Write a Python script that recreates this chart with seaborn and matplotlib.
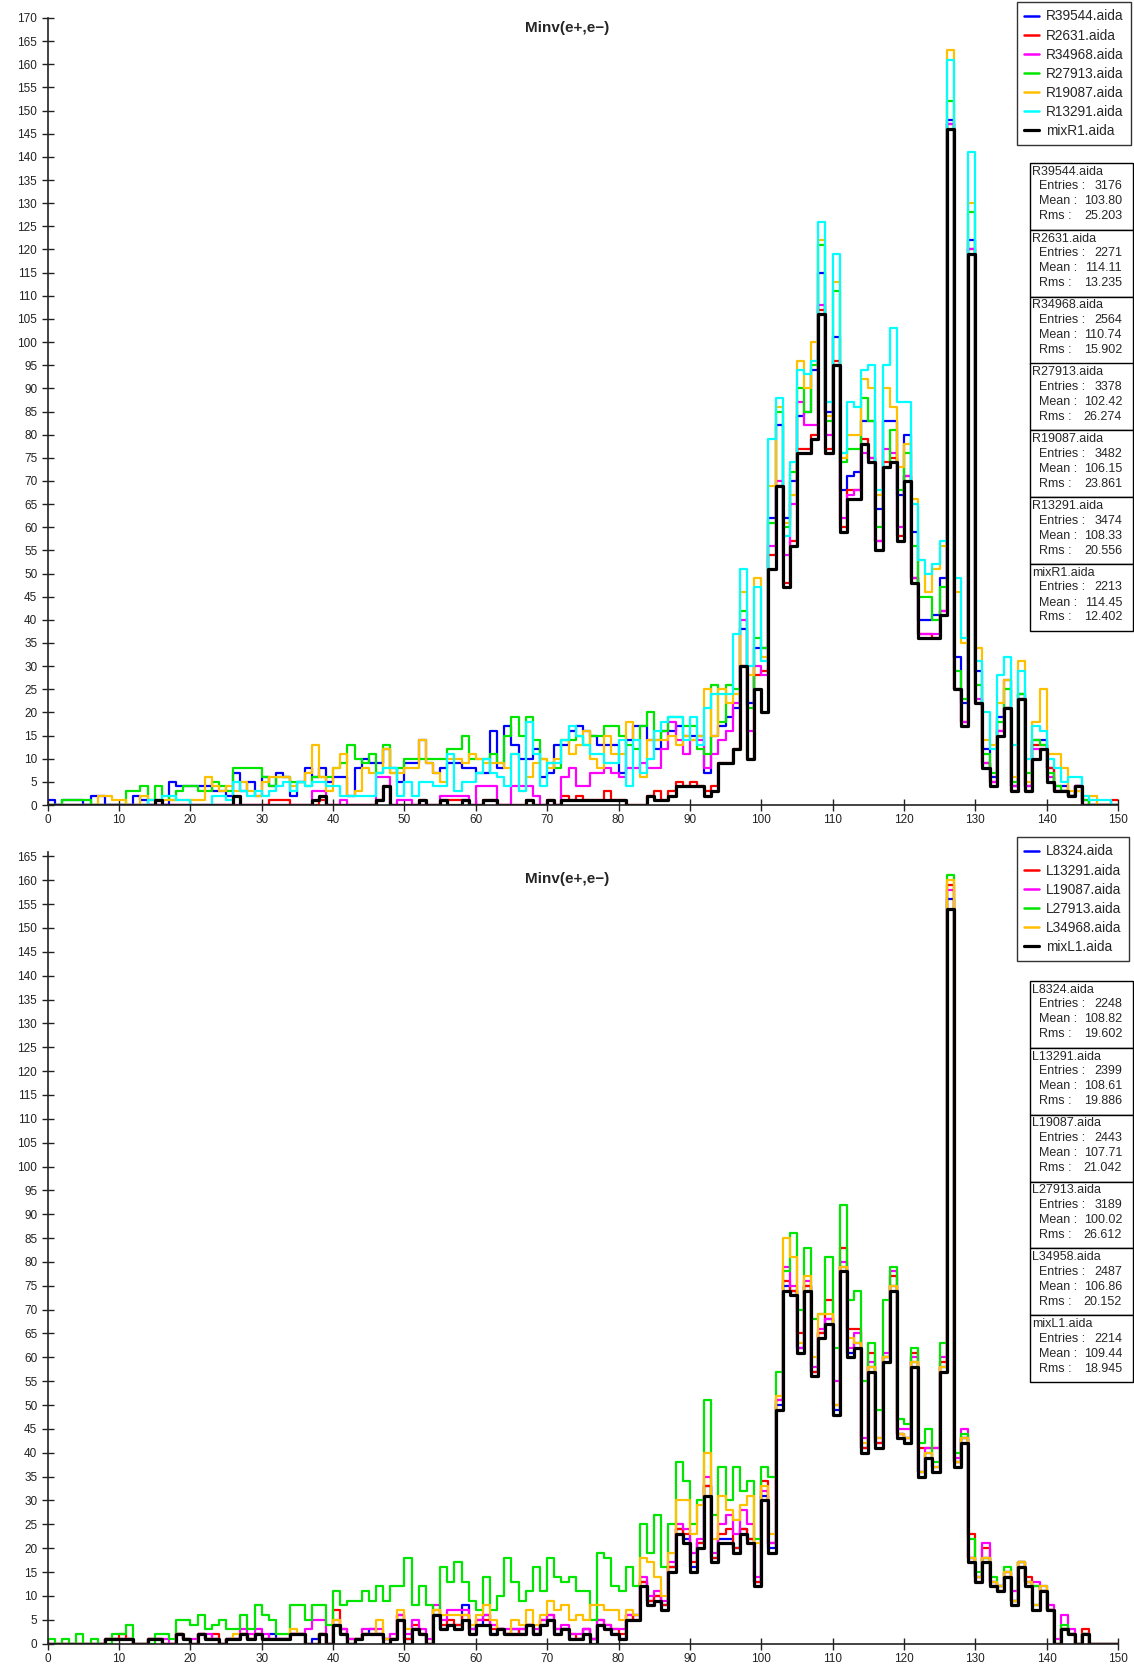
import numpy as np
import pandas as pd
import matplotlib
matplotlib.use("Agg")
import matplotlib.pyplot as plt
from matplotlib.lines import Line2D
from matplotlib.patches import Rectangle
import seaborn as sns

# bins of width 1 from 0 to 150
edges = np.arange(0, 151)
centers = edges[:-1] + 0.5

# ---- upper panel (R files) ----
r39544 = [1,0,1,1,1,0,2,2,0,0, 0,0,2,1,0,0,0,5,4,4, 4,4,4,3,3,2,7,3,5,2,
          6,4,7,6,2,5,8,6,8,5, 6,6,2,8,10,9,9,12,8,5, 9,9,14,9,7,8,9,9,8,8,
          7,7,16,8,17,13,10,10,12,6, 7,13,13,16,17,16,15,13,13,13, 7,14,17,17,14,12,16,16,17,15,
          15,15,7,15,17,19,21,38,22,34, 34,62,82,62,70,84,85,94,115,85, 101,68,71,72,83,83,64,83,83,67,
          80,59,40,40,41,49,148,32,22,122, 29,12,6,19,27,4,24,4,14,14, 8,4,4,2,4,1,0,0,0,0]
r2631 = [0,0,0,0,0,0,0,0,0,0, 0,0,0,0,0,0,0,0,0,0, 0,0,0,0,0,0,0,0,0,0,
         0,1,1,1,0,0,0,0,1,0, 0,0,0,0,0,0,1,4,0,0, 0,0,1,0,0,1,1,1,1,0,
         0,1,1,0,0,0,0,1,0,0, 1,0,2,1,2,1,1,1,3,1, 1,0,0,0,2,3,1,3,5,4,
         5,4,3,4,9,9,12,30,10,28, 29,54,69,48,57,77,77,80,107,77, 96,60,68,68,79,75,57,74,75,58,
         71,49,37,37,36,42,147,25,18,120, 22,9,5,16,21,3,23,3,13,13, 8,3,3,2,4,0,0,0,0,1]
r34968 = [0,0,0,0,0,0,0,0,0,0, 0,0,0,0,0,0,0,0,0,0, 0,0,0,0,0,0,0,0,0,0,
          0,0,0,0,0,0,0,3,3,0, 0,1,0,0,0,0,6,6,0,1, 1,0,0,0,0,2,2,2,2,0,
          4,4,4,0,0,4,4,4,2,0, 0,0,6,8,4,4,7,7,8,7, 6,8,8,9,8,8,12,18,14,11,
          14,14,8,11,14,16,22,40,16,30, 28,56,70,54,65,87,82,82,108,80, 95,62,67,68,76,75,57,77,76,60,
          71,49,37,37,37,42,147,25,18,120, 23,9,5,16,21,4,23,4,12,12, 6,3,3,2,4,0,0,0,0,0]
r27913 = [0,0,1,1,1,1,0,0,0,0, 0,3,3,4,1,4,2,1,3,4, 4,3,3,5,4,3,8,8,8,8,
          6,4,6,6,5,5,4,6,6,6, 8,9,13,10,9,11,7,13,7,8, 10,10,10,10,10,10,12,12,15,10,
          10,10,11,9,15,19,15,19,14,10, 9,8,14,14,15,13,15,15,17,17, 15,13,12,17,20,14,16,19,19,17,
          17,12,11,26,18,26,25,42,21,36, 34,61,85,60,72,90,85,95,121,83, 111,74,77,77,88,83,60,73,81,68,
          76,56,45,45,40,47,152,29,23,128, 26,11,7,18,25,5,24,7,14,13, 7,4,3,2,3,1,0,0,0,0]
r19087 = [0,0,0,0,0,0,0,2,2,1, 1,0,0,2,1,1,1,1,1,1, 1,1,6,4,3,4,3,5,3,2,
          5,6,6,6,4,5,7,13,6,3, 8,11,2,3,8,7,7,12,7,7, 8,8,14,9,7,5,10,10,9,11,
          10,9,9,9,8,11,3,6,9,10, 8,10,14,11,13,16,10,8,15,11, 11,18,14,6,14,14,14,15,13,15,
          14,15,25,15,25,22,24,46,28,49, 32,69,86,61,67,96,90,100,122,84, 113,75,80,80,92,90,67,90,86,73,
          78,66,53,46,51,56,163,46,35,130, 34,14,13,22,27,6,31,5,18,25, 11,11,8,3,3,2,2,0,0,0]
r13291 = [0,0,0,0,0,0,0,0,0,0, 0,0,0,0,1,1,2,2,1,1, 0,0,0,2,2,1,5,3,2,3,
          2,3,4,5,3,5,4,5,5,4, 4,2,2,2,2,2,7,8,8,2, 5,2,5,5,4,4,11,3,5,5,
          7,10,7,6,4,11,3,18,11,4, 9,9,14,17,15,13,11,11,9,9, 14,4,14,7,10,16,18,19,19,14,
          19,13,21,24,24,24,37,51,30,47, 31,79,88,58,74,94,93,96,126,87, 119,76,87,86,94,95,68,95,103,87,
          87,65,53,50,52,57,161,49,36,141, 31,20,12,28,32,13,29,10,17,16, 10,8,5,6,6,2,1,1,1,0]
mixr1 = [0,0,0,0,0,0,0,0,0,0, 0,0,0,0,0,1,0,0,0,0, 0,0,0,0,0,0,2,0,0,0,
         0,0,0,0,0,0,0,1,2,0, 0,0,0,0,0,0,1,4,0,0, 0,0,1,0,0,1,0,0,1,0,
         0,1,1,0,0,0,0,1,0,0, 1,0,1,1,1,1,1,1,1,1, 1,0,0,0,2,1,1,2,4,4,
         4,4,2,3,9,9,12,30,10,25, 20,51,69,47,56,76,76,79,106,76, 95,59,66,66,78,74,55,73,74,57,
         70,48,36,36,36,41,146,25,17,119, 22,8,4,15,21,3,23,3,10,12, 5,3,3,2,4,0,0,0,0,0]

top_names = ["R39544.aida", "R2631.aida", "R34968.aida", "R27913.aida",
             "R19087.aida", "R13291.aida", "mixR1.aida"]
top_counts = [r39544, r2631, r34968, r27913, r19087, r13291, mixr1]
top_entries = ["3176", "2271", "2564", "3378", "3482", "3474", "2213"]
top_mean = ["103.80", "114.11", "110.74", "102.42", "106.15", "108.33", "114.45"]
top_rms = ["25.203", "13.235", "15.902", "26.274", "23.861", "20.556", "12.402"]

# ---- lower panel (L files) ----
l8324 = [0,0,0,0,0,0,0,0,1,1, 1,1,0,0,1,1,0,0,2,1, 0,2,1,1,0,1,1,2,1,2,
         1,2,1,1,2,2,0,1,2,0, 4,2,0,1,2,3,2,1,1,5, 1,3,2,0,6,3,4,4,8,3,
         4,6,2,3,2,3,2,4,2,4, 5,2,3,1,1,3,1,4,3,2, 1,5,6,13,9,10,8,16,24,22,
         16,21,33,18,22,22,20,24,22,13, 31,20,50,75,74,62,75,57,65,68, 49,79,61,63,41,58,42,60,75,44,
         43,59,36,40,37,58,156,38,43,18, 14,18,13,12,15,9,17,13,8,12, 7,0,3,2,0,2,0,0,0,0]
l13291 = [0,0,0,0,0,0,0,0,1,1, 2,1,0,0,1,1,0,0,2,1, 0,2,1,2,0,1,1,2,1,2,
          1,1,1,1,2,2,0,0,2,0, 7,3,1,1,2,2,2,1,1,6, 1,4,2,0,7,4,5,4,6,2,
          5,5,3,3,2,2,3,4,2,5, 6,3,3,2,1,3,1,5,4,3, 2,6,5,13,9,10,8,16,24,23,
          17,21,33,18,23,24,20,24,22,13, 34,21,51,76,74,65,75,57,65,72, 50,83,66,66,41,61,42,60,77,44,
          43,61,41,41,41,59,159,38,43,23, 13,20,12,11,14,9,16,14,12,11, 7,0,3,2,0,3,0,0,0,0]
l19087 = [0,0,0,0,0,0,0,0,1,1, 1,1,0,0,1,1,1,0,2,1, 1,2,2,1,0,1,1,3,2,3,
          2,1,1,1,2,2,3,5,5,0, 5,3,1,1,3,3,3,1,2,6, 2,5,3,1,8,5,7,7,7,3,
          5,6,4,3,3,3,3,4,3,5, 6,3,4,2,2,3,1,5,4,3, 3,6,6,14,10,11,9,17,25,24,
          19,22,35,19,25,27,23,28,25,14, 32,21,51,79,75,62,76,58,66,68, 55,80,62,65,43,59,43,61,78,45,
          45,60,36,41,41,60,158,39,45,18, 14,21,13,12,15,11,17,13,13,11, 8,1,6,3,0,2,0,0,0,0]
l27913 = [1,0,1,0,2,0,1,0,0,2, 2,4,0,0,0,2,2,1,5,5, 4,6,3,4,5,3,3,6,3,8,
          6,5,2,2,8,8,5,8,8,4, 11,8,9,9,11,9,12,9,12,12, 18,8,12,8,6,16,13,17,13,9,
          7,14,7,10,18,13,9,11,16,11, 18,14,13,14,11,11,5,19,18,12, 11,16,12,25,19,27,16,25,38,34,
          25,30,51,27,37,30,37,32,34,22, 37,35,57,78,86,70,83,68,69,81, 62,92,72,74,55,63,49,72,79,47,
          46,62,42,45,38,63,161,40,44,22, 15,18,14,12,16,9,17,13,12,11, 7,0,4,2,0,2,0,0,0,0]
l34968 = [0,0,0,0,0,0,0,0,1,1, 1,1,0,0,1,1,0,0,2,1, 0,2,1,1,0,1,2,2,1,2,
          1,1,1,1,3,2,0,0,2,0, 5,2,0,1,2,2,5,1,1,7, 3,3,2,0,7,6,6,6,6,4,
          6,8,5,3,2,5,4,7,4,6, 9,7,8,5,6,5,8,8,7,7, 5,7,6,18,17,14,10,19,30,30,
          23,29,40,22,31,28,26,29,31,21, 33,23,52,85,81,63,77,60,69,69, 50,79,64,63,42,58,43,60,75,44,
          43,59,36,40,37,58,160,38,43,18, 14,18,13,12,15,9,17,13,8,12, 7,0,3,2,0,2,0,0,0,0]
mixl1 = [0,0,0,0,0,0,0,0,1,1, 1,1,0,0,1,1,0,0,2,1, 0,2,1,1,0,1,1,2,1,2,
         1,1,1,1,2,2,0,0,2,0, 4,2,0,1,2,2,2,0,1,5, 0,3,2,0,6,3,4,3,5,2,
         4,4,2,3,2,2,2,4,2,4, 5,2,3,1,1,2,0,4,3,2, 1,5,5,12,8,9,7,15,23,21,
         15,20,31,17,21,21,19,23,21,12, 30,19,49,74,73,61,74,56,64,67, 48,78,60,62,40,57,41,59,74,43,
         42,58,35,39,36,57,154,37,42,17, 13,17,12,11,14,8,16,12,7,11, 7,0,3,2,0,2,0,0,0,0]

bot_names = ["L8324.aida", "L13291.aida", "L19087.aida", "L27913.aida",
             "L34968.aida", "mixL1.aida"]
bot_counts = [l8324, l13291, l19087, l27913, l34968, mixl1]
bot_entries = ["2248", "2399", "2443", "3189", "2487", "2214"]
bot_mean = ["108.82", "108.61", "107.71", "100.02", "106.86", "109.44"]
bot_rms = ["19.602", "19.886", "21.042", "26.612", "20.152", "18.945"]
bot_box_names = ["L8324.aida", "L13291.aida", "L19087.aida", "L27913.aida",
                 "L34958.aida", "mixL1.aida"]

top_colors = ["#0000ff", "#ff0000", "#ff00ff", "#00e600", "#ffc000", "#00ffff", "#000000"]
bot_colors = ["#0000ff", "#ff0000", "#ff00ff", "#00e600", "#ffc000", "#000000"]

sns.set_style("ticks")
plt.rcParams['font.family'] = ['Liberation Sans', 'DejaVu Sans']

W, H = 1134, 1668
fig = plt.figure(figsize=(W / 100, H / 100), dpi=100)
fig.patch.set_facecolor("white")


def fx(px):
    return px / W


def fy(py):
    return 1 - py / H


def panel(ax, names, counts, colors, ymax, ytop):
    for name, vals, col in zip(names, counts, colors):
        lw = 2.3 if col == "#000000" else 1.6
        df = pd.DataFrame({"minv": centers, "n": np.asarray(vals, dtype=float)})
        sns.histplot(data=df, x="minv", weights="n", binwidth=1, binrange=(0, 150),
                     element="step", fill=False, color=col, linewidth=lw, ax=ax)
    ax.set_xlim(0, 150)
    ax.set_ylim(0, ytop)
    ax.set_xticks(np.arange(0, 151, 10))
    ax.set_yticks(np.arange(0, ymax + 1, 5))
    ax.set_xlabel("")
    ax.set_ylabel("")
    ax.set_facecolor("white")
    for s in ["top", "right"]:
        ax.spines[s].set_visible(False)
    for s in ["left", "bottom"]:
        ax.spines[s].set_color("#222222")
        ax.spines[s].set_linewidth(1.2)
    ax.tick_params(direction="inout", length=9, width=1, labelsize=8.5,
                   colors="#222222")
    ax.tick_params(axis="x", pad=2)
    ax.tick_params(axis="y", pad=3)


def stats_boxes(top, names, entries, means, rms):
    h = 66.9
    for i, nm in enumerate(names):
        y0 = top + h * i
        fig.add_artist(Rectangle((fx(1030), fy(y0 + h)), fx(1133) - fx(1030),
                                 h / H, transform=fig.transFigure,
                                 facecolor="white", edgecolor="black", lw=1.0))
        fig.text(fx(1032), fy(y0 + 8.8), nm, fontsize=9, va="center", ha="left")
        for j, (lab, val) in enumerate([("Entries :", entries[i]),
                                        ("Mean :", means[i]),
                                        ("Rms :", rms[i])]):
            yy = fy(y0 + 23.3 + 15 * j)
            fig.text(fx(1039), yy, lab, fontsize=9, va="center", ha="left")
            fig.text(fx(1122), yy, val, fontsize=9, va="center", ha="right")


def legend(handles_cols, labels, top):
    hs = [Line2D([0], [0], color=c, lw=2.3 if c == "#000000" else 1.8)
          for c in handles_cols]
    lg = fig.legend(hs, labels, loc="upper left", bbox_to_anchor=(fx(1017), fy(top)),
                    frameon=True, fancybox=False, edgecolor="black", fontsize=9.8,
                    handlelength=1.1, handletextpad=0.45, labelspacing=0.37,
                    borderpad=0.55, borderaxespad=0)
    lg.get_frame().set_linewidth(1.0)


x_left = fx(47.7)
x_w = fx(1118) - x_left

# upper panel: 0 at y=805, 170 at y=18
ax1 = fig.add_axes([x_left, fy(805), x_w, (805 - 18) / H])
panel(ax1, top_names, top_counts, top_colors, 170, 170)
fig.text(0.5, fy(28), "Minv(e+,e\u2212)", fontsize=11, fontweight="bold",
         ha="center", va="center")
legend(top_colors, top_names, 2)
stats_boxes(162.8, top_names, top_entries, top_mean, top_rms)

# lower panel: 0 at y=1643.6, 165 at y=856.4
ppu = (1643.6 - 856.4) / 165
ax2 = fig.add_axes([x_left, fy(1643.6), x_w, 166 * ppu / H])
panel(ax2, bot_names, bot_counts, bot_colors, 165, 166)
fig.text(0.5, fy(879), "Minv(e+,e\u2212)", fontsize=11, fontweight="bold",
         ha="center", va="center")
legend(bot_colors, bot_names, 837)
stats_boxes(980.8, bot_box_names, bot_entries, bot_mean, bot_rms)

plt.savefig("out.png", dpi=100, facecolor="white")
plt.close()
